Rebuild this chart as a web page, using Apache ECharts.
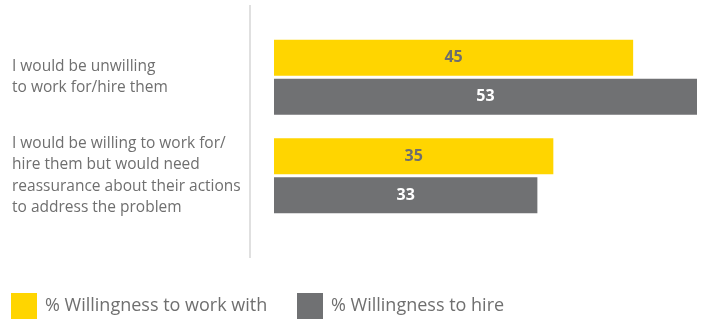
<!DOCTYPE html>
<html>
<head>
<meta charset="utf-8">
<script src="https://cdn.jsdelivr.net/npm/echarts@6/dist/echarts.min.js"></script>
<style>
  html, body { margin: 0; padding: 0; background: #fff; }
  #chart { width: 709px; height: 319px; }
</style>
</head>
<body>
<div id="chart"></div>
<script>
// categories (top to bottom)
var categories = [
  "I would be unwilling\nto work for/hire them",
  "I would be willing to work for/\nhire them but would need\nreassurance about their actions\nto address the problem"
];
var workWith = [45, 35];
var hire = [53, 33];
var seriesNames = ["% Willingness to work with", "% Willingness to hire"];

var yellow = "#ffd500";
var grey = "#707173";
var textGrey = "#6f6f6f";
var font = "Open Sans";

var myChart = echarts.init(document.getElementById("chart"));

var option = {
  animation: false,
  grid: { left: 274, right: 12, top: 28, height: 197 },
  legend: [
    {
      data: [seriesNames[0]],
      left: 11,
      top: 293,
      padding: 0,
      itemWidth: 26,
      itemHeight: 26,
      icon: "rect",
      textStyle: { color: textGrey, fontFamily: font, fontSize: 18, padding: [0, 0, 0, 3] }
    },
    {
      data: [seriesNames[1]],
      left: 297,
      top: 293,
      padding: 0,
      itemWidth: 26,
      itemHeight: 26,
      icon: "rect",
      textStyle: { color: textGrey, fontFamily: font, fontSize: 18, padding: [0, 0, 0, 3] }
    }
  ],
  xAxis: {
    type: "value",
    min: 0,
    max: 53,
    show: false
  },
  yAxis: {
    type: "category",
    inverse: true,
    data: categories,
    axisLine: { show: false },
    axisTick: { show: false },
    axisLabel: {
      align: "left",
      margin: 262,
      color: textGrey,
      fontFamily: font,
      fontSize: 15.5,
      lineHeight: 21.5
    }
  },
  graphic: [
    {
      // divider line between labels and bars
      type: "line",
      shape: { x1: 250, y1: 5, x2: 250, y2: 258 },
      style: { stroke: "#d6d6d6", lineWidth: 1.5 }
    }
  ],
  series: [
    {
      name: seriesNames[0],
      type: "bar",
      data: workWith,
      barWidth: 36,
      barGap: "9%",
      itemStyle: { color: yellow },
      label: {
        show: true,
        position: "inside",
        color: "#6e6e6e",
        fontFamily: font,
        fontWeight: "bold",
        fontSize: 16
      }
    },
    {
      name: seriesNames[1],
      type: "bar",
      data: hire,
      barWidth: 36,
      barGap: "9%",
      itemStyle: { color: grey },
      label: {
        show: true,
        position: "inside",
        color: "#ffffff",
        fontFamily: font,
        fontWeight: "bold",
        fontSize: 16
      }
    }
  ]
};

myChart.setOption(option);
window.addEventListener("resize", function () {
  myChart.resize();
});
</script>
</body>
</html>
